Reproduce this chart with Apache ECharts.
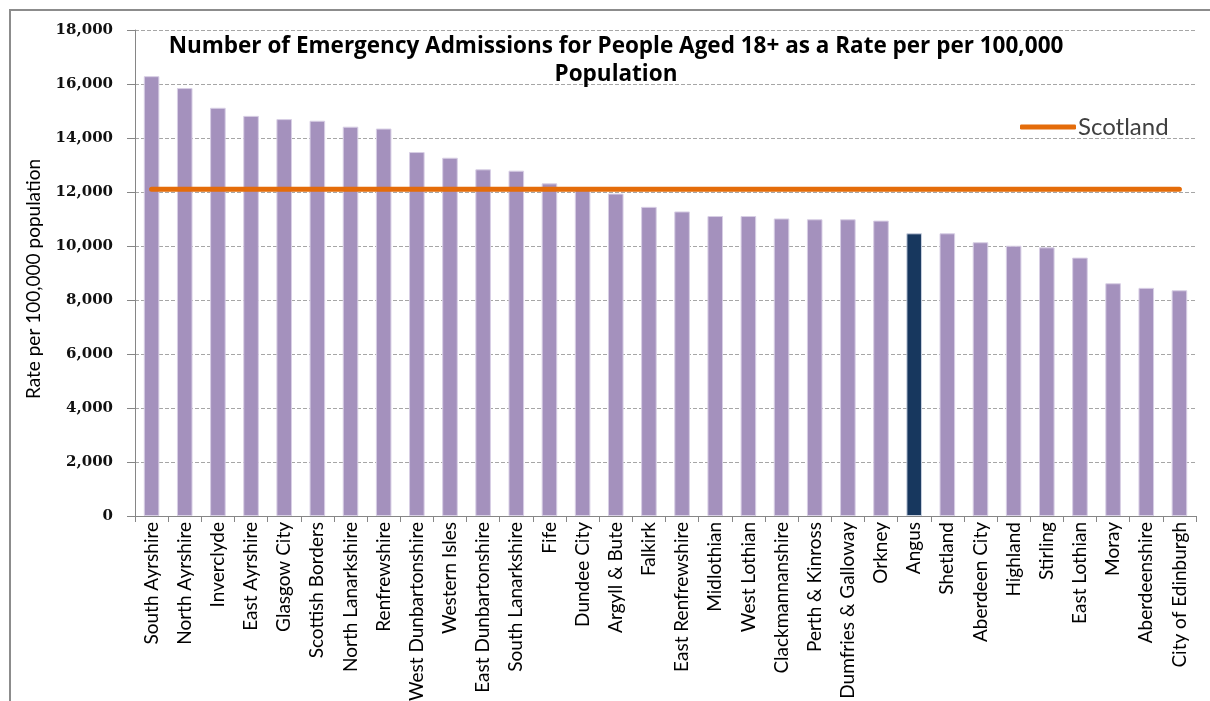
<!DOCTYPE html>
<html>
<head>
<meta charset="utf-8">
<script src="https://cdn.jsdelivr.net/npm/echarts@6/dist/echarts.min.js"></script>
<style>
  html, body { margin: 0; padding: 0; background: #fff; }
  #frame { position: absolute; left: 9px; top: 9px; width: 1201px; height: 692px;
           border-top: 2px solid #8c8c8c; border-left: 2px solid #8c8c8c; box-sizing: border-box; }
  #chart { position: absolute; left: 0; top: 0; width: 1210px; height: 701px; }
</style>
</head>
<body>
<div id="frame"></div>
<div id="chart"></div>
<script>
// Council areas, highest to lowest admission rate
const categories = [
  'South Ayrshire', 'North Ayrshire', 'Inverclyde', 'East Ayrshire', 'Glasgow City',
  'Scottish Borders', 'North Lanarkshire', 'Renfrewshire', 'West Dunbartonshire',
  'Western Isles', 'East Dunbartonshire', 'South Lanarkshire', 'Fife', 'Dundee City',
  'Argyll & Bute', 'Falkirk', 'East Renfrewshire', 'Midlothian', 'West Lothian',
  'Clackmannanshire', 'Perth & Kinross', 'Dumfries & Galloway', 'Orkney', 'Angus',
  'Shetland', 'Aberdeen City', 'Highland', 'Stirling', 'East Lothian', 'Moray',
  'Aberdeenshire', 'City of Edinburgh'
];

// Emergency admissions, people aged 18+, rate per 100,000 population
const rates = [
  16290, 15850, 15120, 14820, 14700, 14640, 14420, 14350, 13480, 13270, 12840,
  12790, 12320, 12100, 11940, 11450, 11280, 11110, 11110, 11020, 10990, 10990,
  10940, 10470, 10470, 10140, 10010, 9950, 9570, 8620, 8450, 8360
];

// Scotland-wide rate, drawn across every area
const scotland = [
  12100, 12100, 12100, 12100, 12100, 12100, 12100, 12100, 12100, 12100, 12100,
  12100, 12100, 12100, 12100, 12100, 12100, 12100, 12100, 12100, 12100, 12100,
  12100, 12100, 12100, 12100, 12100, 12100, 12100, 12100, 12100, 12100
];

const highlightArea = 'Angus';

const yTicks = { min: 0, max: 18000, interval: 2000 };

const barData = categories.map((name, i) => ({
  value: rates[i],
  itemStyle: name === highlightArea ? { color: '#17375E', borderColor: '#c9d1e0' } : undefined
}));

const chart = echarts.init(document.getElementById('chart'), null, { renderer: 'canvas' });

chart.setOption({
  backgroundColor: 'transparent',
  animation: false,
  title: {
    text: 'Number of Emergency Admissions for People Aged 18+ as a Rate per per 100,000\nPopulation',
    left: 611,
    textAlign: 'center',
    top: 28,
    textStyle: {
      fontFamily: 'Open Sans',
      fontWeight: 'bold',
      fontSize: 22.5,
      lineHeight: 28,
      color: '#000'
    }
  },
  legend: {
    data: ['Scotland'],
    left: 1015,
    top: 110,
    itemWidth: 56,
    itemHeight: 5,
    itemGap: 4,
    icon: 'roundRect',
    textStyle: { fontFamily: 'Lato', fontSize: 24, color: '#404040', padding: [0, 0, 0, -3] }
  },
  grid: { left: 135, right: 14, top: 30, bottom: 185, containLabel: false, outerBoundsMode: 'none' },
  xAxis: {
    type: 'category',
    data: categories,
    axisLine: { lineStyle: { color: '#868686', width: 1 } },
    axisTick: { show: true, length: 6, lineStyle: { color: '#868686' } },
    axisLabel: {
      interval: 0,
      rotate: 90,
      margin: 6,
      fontFamily: 'Lato',
      fontSize: 19,
      color: '#000'
    }
  },
  yAxis: {
    type: 'value',
    min: yTicks.min,
    max: yTicks.max,
    interval: yTicks.interval,
    name: 'Rate per 100,000 population',
    nameLocation: 'middle',
    nameRotate: 90,
    nameGap: 92,
    nameTextStyle: { fontFamily: 'Lato', fontSize: 19, color: '#000', padding: [0, 12, 0, 0] },
    axisLine: { show: true, lineStyle: { color: '#868686', width: 1 } },
    axisTick: { show: true, inside: false, length: 8, lineStyle: { color: '#868686' } },
    axisLabel: {
      margin: 22,
      fontFamily: 'DejaVu Serif',
      fontWeight: 'bold',
      fontSize: 15,
      color: '#111',
      formatter: v => v.toLocaleString('en-GB')
    },
    splitLine: { show: true, lineStyle: { color: '#a6a6a6', type: [4, 2], width: 1 } }
  },
  series: [
    {
      name: 'Rate',
      type: 'bar',
      data: barData,
      barWidth: '47%',
      itemStyle: { color: '#A491BD', borderColor: '#d8cfe5', borderWidth: 1 },
      z: 2
    },
    {
      name: 'Scotland',
      type: 'line',
      data: scotland,
      symbol: 'none',
      showSymbol: false,
      lineStyle: { color: '#E46C0A', width: 5, cap: 'round' },
      itemStyle: { color: '#E46C0A' },
      z: 3
    }
  ]
});
</script>
</body>
</html>
